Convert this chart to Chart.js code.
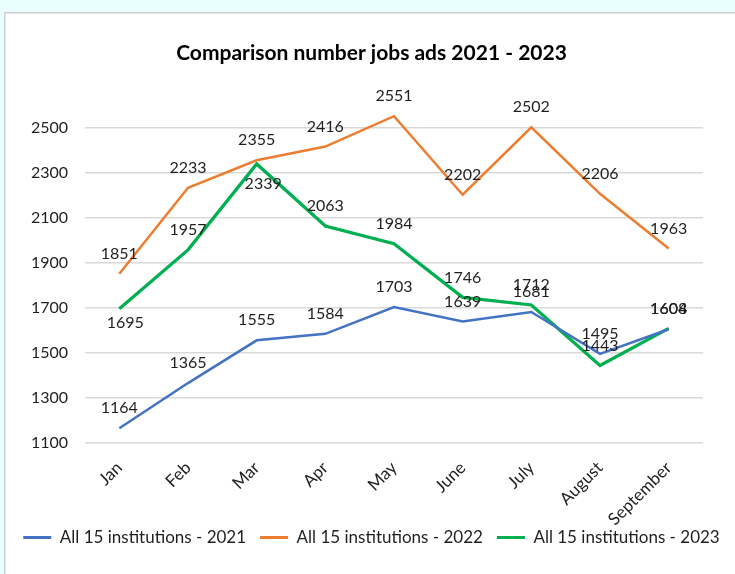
<!DOCTYPE html>
<html>
<head>
<meta charset="utf-8">
<script src="https://cdn.jsdelivr.net/npm/chart.js@4/dist/chart.umd.min.js"></script>
<style>
  html, body { margin: 0; padding: 0; background: #E8FEFF; }
  #wrap { position: absolute; left: 0; top: 0; width: 735px; height: 574px; }
</style>
</head>
<body>
<div id="wrap"><canvas id="c" width="735" height="574"></canvas></div>
<script>
const chartTitle = 'Comparison number jobs ads 2021 - 2023';
const months = ['Jan', 'Feb', 'Mar', 'Apr', 'May', 'June', 'July', 'August', 'September'];
const seriesNames = ['All 15 institutions - 2021', 'All 15 institutions - 2022', 'All 15 institutions - 2023'];
const jobs2021 = [1164, 1365, 1555, 1584, 1703, 1639, 1681, 1495, 1604];
const jobs2022 = [1851, 2233, 2355, 2416, 2551, 2202, 2502, 2206, 1963];
const jobs2023 = [1695, 1957, 2339, 2063, 1984, 1746, 1712, 1443, 1608];
const yTicks = [1100, 1300, 1500, 1700, 1900, 2100, 2300, 2500];

// label placement (style only): default above the point
const labelShift = {
  2: { 0: [6, 14.5], 2: [6.5, 20] }
};

const FONT = 'Lato, "Open Sans", sans-serif';
const TEXT = '#1f1f1f';

const frame = {
  id: 'frame',
  beforeDraw(chart) {
    const ctx = chart.ctx;
    ctx.save();
    ctx.fillStyle = '#E8FEFF';
    ctx.fillRect(0, 0, chart.width, chart.height);
    ctx.fillStyle = '#FFFFFF';
    ctx.fillRect(4, 12, chart.width, chart.height);
    ctx.strokeStyle = '#CFCFCF';
    ctx.lineWidth = 1.5;
    ctx.beginPath();
    ctx.moveTo(4.75, chart.height);
    ctx.lineTo(4.75, 12.75);
    ctx.lineTo(chart.width, 12.75);
    ctx.stroke();
    ctx.restore();
  },
  afterLayout(chart) {
    // let rotated month labels extend past the axis box without clipping
    const xs = chart.scales.x;
    if (xs) xs._computeLabelArea = () => undefined;
  }
};

const valueLabels = {
  id: 'valueLabels',
  afterDatasetsDraw(chart) {
    const ctx = chart.ctx;
    ctx.save();
    ctx.font = '16px ' + FONT;
    ctx.fillStyle = TEXT;
    ctx.textAlign = 'center';
    ctx.textBaseline = 'middle';
    chart.data.datasets.forEach((ds, di) => {
      const meta = chart.getDatasetMeta(di);
      meta.data.forEach((pt, i) => {
        const s = (labelShift[di] && labelShift[di][i]) || [0, -20];
        ctx.fillText(String(ds.data[i]), pt.x + s[0], pt.y + s[1]);
      });
    });
    ctx.restore();
  }
};

new Chart(document.getElementById('c'), {
  type: 'line',
  data: {
    labels: months,
    datasets: [
      { label: seriesNames[0], data: jobs2021, borderColor: '#4472C4', backgroundColor: '#4472C4', borderWidth: 2.5 },
      { label: seriesNames[1], data: jobs2022, borderColor: '#ED7D31', backgroundColor: '#ED7D31', borderWidth: 2.5 },
      { label: seriesNames[2], data: jobs2023, borderColor: '#00B050', backgroundColor: '#00B050', borderWidth: 3.25 }
    ]
  },
  options: {
    responsive: false,
    animation: false,
    devicePixelRatio: 1,
    elements: { point: { radius: 0, hoverRadius: 0 }, line: { tension: 0 } },
    layout: { padding: { left: 8, right: 0, top: 0, bottom: 18 } },
    scales: {
      x: {
        offset: true,
        grid: { display: false, drawTicks: false },
        border: { display: false },
        ticks: { color: TEXT, font: { family: FONT, size: 17 }, maxRotation: 45, minRotation: 45, autoSkip: false, padding: 15 },
        afterFit(s) { s.height = 72.3; }
      },
      y: {
        min: 1100, max: 2600,
        grid: { color: '#D9D9D9', lineWidth: 1.5, drawTicks: false },
        border: { display: false },
        afterBuildTicks(s) { s.ticks = yTicks.map(v => ({ value: v })); },
        ticks: { color: TEXT, font: { family: FONT, size: 16 }, padding: 17, callback: v => String(v) },
        afterFit(s) { s.width = 77; }
      },
      spacer: {
        type: 'linear', position: 'right', display: true,
        grid: { display: false, drawTicks: false },
        border: { display: false },
        ticks: { display: false },
        afterFit(s) { s.width = 32; }
      }
    },
    plugins: {
      title: {
        display: true, text: chartTitle, color: '#000000',
        font: { family: FONT, size: 21, weight: 'bold' },
        padding: { top: 41, bottom: 39 }
      },
      legend: {
        position: 'bottom',
        labels: {
          color: TEXT, font: { family: FONT, size: 17 },
          usePointStyle: true, pointStyle: 'line', pointStyleWidth: 28,
          padding: 14,
          generateLabels(chart) {
            return chart.data.datasets.map((ds, i) => ({
              text: ds.label, strokeStyle: ds.borderColor, fillStyle: ds.borderColor,
              lineWidth: 3, pointStyle: 'line', datasetIndex: i, fontColor: TEXT
            }));
          }
        }
      },
      tooltip: { enabled: false }
    }
  },
  plugins: [frame, valueLabels]
});
</script>
</body>
</html>
